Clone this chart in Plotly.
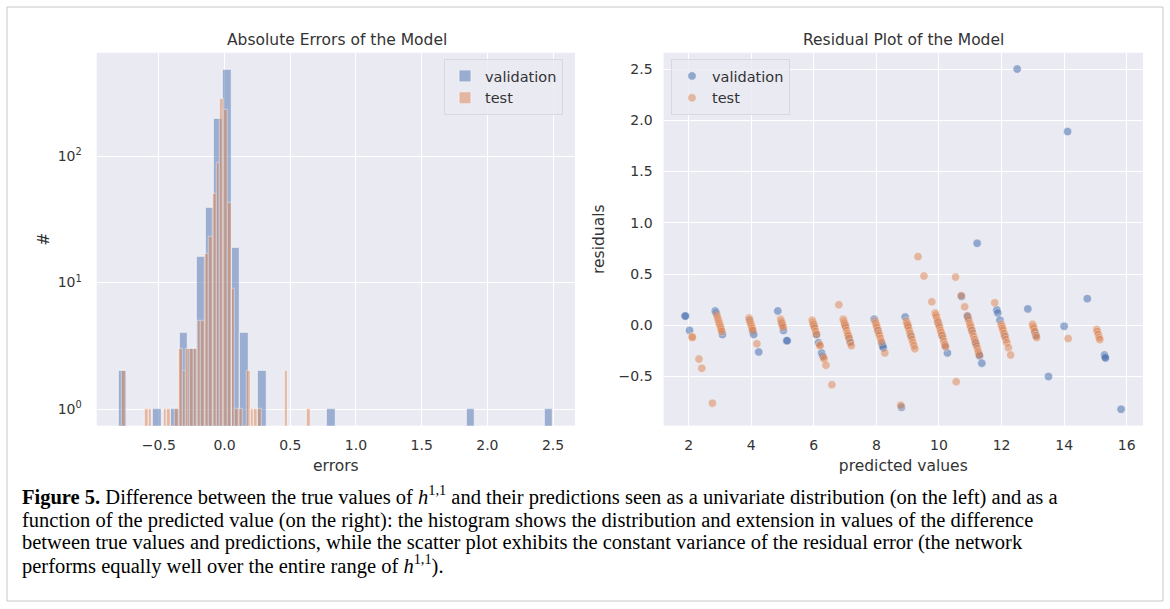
import numpy as np
import plotly.graph_objects as go

W, H = 1170, 609

# ---------------- data: histogram of errors ----------------
n_bins = 50
val_range = (-0.808, 2.501)
test_range = (-0.782, 0.656)
val_counts = [2, 0, 0, 0, 1, 0, 1, 4, 3, 16,
              39, 199, 485, 19, 4, 0, 2, 0, 0, 0,
              0, 0, 0, 0, 1, 0, 0, 0, 0, 0,
              0, 0, 0, 0, 0, 0, 0, 0, 0, 0,
              1, 0, 0, 0, 0, 0, 0, 0, 0, 1]
test_counts = [2, 0, 0, 0, 0, 0, 1, 1, 0, 0,
               0, 1, 1, 0, 1, 3, 2, 3, 3, 3,
               5, 5, 17, 23, 50, 88, 286, 231, 43, 9,
               1, 1, 0, 2, 1, 1, 1, 0, 0, 0,
               0, 0, 0, 2, 0, 0, 0, 0, 0, 1]

# ---------------- data: residual plot ----------------
val_pred = [1.88, 1.90, 2.03, 2.85, 2.88, 3.08, 3.95, 4.05, 4.08, 4.24,
            4.85, 4.97, 5.03, 5.13, 5.15, 6.00, 6.08, 6.15, 6.25, 6.28,
            7.00, 7.12, 7.16, 7.93, 8.05, 8.18, 8.20, 8.22, 8.80, 8.92,
            9.00, 9.10, 9.98, 10.10, 10.20, 10.27, 10.72, 10.91, 10.93, 11.05,
            11.16, 11.18, 11.22, 11.28, 11.30, 11.37, 11.85, 11.88, 11.95, 12.10,
            12.50, 12.84, 13.07, 13.10, 13.50, 14.00, 14.11, 14.74, 15.29, 15.31,
            15.32, 15.82]
val_res = [0.09, 0.09, -0.05, 0.14, 0.12, -0.09, 0.05, -0.06, -0.09, -0.26,
           0.14, 0.02, -0.05, -0.15, -0.15, 0.00, -0.09, -0.17, -0.27, -0.30,
           0.00, -0.12, -0.16, 0.06, -0.05, -0.18, -0.20, -0.22, -0.80, 0.08,
           0.00, -0.10, 0.02, -0.10, -0.20, -0.27, 0.28, 0.09, 0.07, -0.05,
           -0.16, -0.18, 0.80, -0.28, -0.30, -0.37, 0.15, 0.12, 0.05, -0.10,
           2.50, 0.16, -0.07, -0.10, -0.50, -0.01, 1.89, 0.26, -0.29, -0.31,
           -0.32, -0.82]

test_pred = [2.11, 2.12, 2.33, 2.42, 2.76,
             2.90, 2.92, 2.94, 2.96, 2.98, 3.00, 3.02, 3.04, 3.06,
             3.93, 3.95, 3.97, 3.99, 4.01, 4.03, 4.05, 4.18,
             4.94, 4.96, 4.98, 5.00, 5.02,
             5.95, 5.97, 5.99, 6.01, 6.03, 6.06, 6.09, 6.19, 6.20, 6.31, 6.33, 6.39, 6.58, 6.80,
             6.94, 6.96, 6.98, 7.00, 7.02, 7.05, 7.08, 7.10, 7.13, 7.17, 7.20,
             7.96, 7.98, 8.00, 8.02, 8.05, 8.08, 8.10, 8.13, 8.16, 8.27, 8.78,
             8.96, 8.98, 9.00, 9.02, 9.05, 9.08, 9.11, 9.14, 9.17, 9.20, 9.23, 9.33, 9.52, 9.77,
             9.88, 9.90, 9.92, 9.95, 9.97, 10.00, 10.02, 10.05, 10.07, 10.10, 10.13, 10.16, 10.19, 10.21,
             10.53, 10.55, 10.71, 10.82,
             10.91, 10.95, 10.98, 11.00, 11.02, 11.05, 11.08, 11.11, 11.14, 11.17, 11.20, 11.23, 11.26, 11.29,
             11.78,
             11.99, 12.01, 12.03, 12.05, 12.08, 12.11, 12.14, 12.17, 12.22, 12.29,
             12.99, 13.01, 13.03, 13.06, 13.10, 13.12,
             14.13,
             15.04, 15.06, 15.09, 15.12, 15.14]
test_res = [-0.11, -0.12, -0.33, -0.42, -0.76,
            0.10, 0.08, 0.06, 0.04, 0.02, 0.00, -0.02, -0.04, -0.06,
            0.07, 0.05, 0.03, 0.01, -0.01, -0.03, -0.05, -0.18,
            0.06, 0.04, 0.02, 0.00, -0.02,
            0.05, 0.03, 0.01, -0.01, -0.03, -0.06, -0.09, -0.19, -0.20, -0.31, -0.33, -0.39, -0.58, 0.20,
            0.06, 0.04, 0.02, 0.00, -0.02, -0.05, -0.08, -0.10, -0.13, -0.17, -0.20,
            0.04, 0.02, 0.00, -0.02, -0.05, -0.08, -0.10, -0.13, -0.16, -0.27, -0.78,
            0.04, 0.02, 0.00, -0.02, -0.05, -0.08, -0.11, -0.14, -0.17, -0.20, -0.23, 0.67, 0.48, 0.23,
            0.12, 0.10, 0.08, 0.05, 0.03, 0.00, -0.02, -0.05, -0.07, -0.10, -0.13, -0.16, -0.19, -0.21,
            0.47, -0.55, 0.29, 0.18,
            0.09, 0.05, 0.02, 0.00, -0.02, -0.05, -0.08, -0.11, -0.14, -0.17, -0.20, -0.23, -0.26, -0.29,
            0.22,
            0.01, -0.01, -0.03, -0.05, -0.08, -0.11, -0.14, -0.17, -0.22, -0.29,
            0.01, -0.01, -0.03, -0.06, -0.10, -0.12,
            -0.13,
            -0.04, -0.06, -0.09, -0.12, -0.14]

hist_xticks = [-0.5, 0.0, 0.5, 1.0, 1.5, 2.0, 2.5]
hist_yticks = [1, 10, 100]
hist_yticktext = ["10<sup>0</sup>", "10<sup>1</sup>", "10<sup>2</sup>"]
res_xticks = [2, 4, 6, 8, 10, 12, 14, 16]
res_yticks = [-0.5, 0.0, 0.5, 1.0, 1.5, 2.0, 2.5]

caption_lines = [
    "<b>Figure 5.</b> Difference between the true values of <i>h</i><sup>1,1</sup> and their "
    "predictions seen as a univariate distribution (on the left) and as a",
    "function of the predicted value (on the right): the histogram shows the distribution "
    "and extension in values of the difference",
    "between true values and predictions, while the scatter plot exhibits the constant "
    "variance of the residual error (the network",
    "performs equally well over the entire range of <i>h</i><sup>1,1</sup>).",
]

BLUE = "#4C72B0"
ORANGE = "#DD8452"
BG = "#EAEAF2"
TXT = "#333333"
FONT = "DejaVu Sans"


def bars(counts, rng):
    edges = np.linspace(rng[0], rng[1], n_bins + 1)
    centers = (edges[:-1] + edges[1:]) / 2
    width = edges[1] - edges[0]
    c = np.array(counts)
    keep = c > 0
    return centers[keep], c[keep], width


def px_x(p):
    return p / W


def px_y(p):
    return 1 - p / H


fig = go.Figure()

vx, vy, vw = bars(val_counts, val_range)
tx, ty, tw = bars(test_counts, test_range)
fig.add_trace(go.Bar(x=vx, y=vy, width=vw, name="validation", opacity=0.5,
                     marker=dict(color=BLUE, line=dict(color="white", width=0.8)),
                     xaxis="x", yaxis="y", legend="legend"))
fig.add_trace(go.Bar(x=tx, y=ty, width=tw, name="test", opacity=0.5,
                     marker=dict(color=ORANGE, line=dict(color="white", width=0.8)),
                     xaxis="x", yaxis="y", legend="legend"))

fig.add_trace(go.Scatter(x=val_pred, y=val_res, mode="markers", name="validation",
                         marker=dict(color=BLUE, size=8.5, opacity=0.55,
                                     line=dict(color="white", width=0.6)),
                         xaxis="x2", yaxis="y2", legend="legend2"))
fig.add_trace(go.Scatter(x=test_pred, y=test_res, mode="markers", name="test",
                         marker=dict(color=ORANGE, size=8.5, opacity=0.5,
                                     line=dict(color="white", width=0.6)),
                         xaxis="x2", yaxis="y2", legend="legend2"))

axis_common = dict(showgrid=True, gridcolor="white", gridwidth=1.3, zeroline=False,
                   showline=False, ticks="", tickfont=dict(family=FONT, size=14, color=TXT))
title_font = dict(size=15.5, family=FONT, color=TXT)

annotations = [
    dict(text="Absolute Errors of the Model", x=px_x(337), y=px_y(40), xref="paper", yref="paper",
         xanchor="center", yanchor="middle", showarrow=False,
         font=dict(family=FONT, size=15.5, color=TXT)),
    dict(text="Residual Plot of the Model", x=px_x(903), y=px_y(40), xref="paper", yref="paper",
         xanchor="center", yanchor="middle", showarrow=False,
         font=dict(family=FONT, size=15.5, color=TXT)),
]
caption_bottoms = [510, 532.7, 555.3, 579]
for line, yb in zip(caption_lines, caption_bottoms):
    annotations.append(dict(text=line, x=px_x(21), y=px_y(yb), xref="paper", yref="paper",
                            xanchor="left", yanchor="bottom", align="left", showarrow=False,
                            borderpad=0,
                            font=dict(family="Liberation Serif", size=20.5, color="black")))

fig.update_layout(
    width=W, height=H,
    margin=dict(l=0, r=0, t=0, b=0),
    paper_bgcolor="white", plot_bgcolor=BG,
    barmode="overlay", bargap=0,
    font=dict(family=FONT, color=TXT),
    xaxis=dict(domain=[px_x(96.7), px_x(575)], range=[-0.973, 2.667],
               tickvals=hist_xticks, tickformat=".1f", ticklabelstandoff=9,
               title=dict(text="errors", font=title_font, standoff=8),
               anchor="y", **axis_common),
    yaxis=dict(domain=[px_y(425.7), px_y(52.7)], type="log", range=[-0.132, 2.817],
               tickvals=hist_yticks, ticktext=hist_yticktext, ticklabelstandoff=14,
               title=dict(text="#", font=title_font, standoff=4),
               anchor="x", **axis_common),
    xaxis2=dict(domain=[px_x(663.6), px_x(1143)], range=[1.2, 16.52],
                tickvals=res_xticks, ticklabelstandoff=9,
                title=dict(text="predicted values", font=title_font, standoff=8),
                anchor="y2", **axis_common),
    yaxis2=dict(domain=[px_y(425.7), px_y(52.7)], range=[-0.98, 2.66],
                tickvals=res_yticks, tickformat=".1f", ticklabelstandoff=10,
                title=dict(text="residuals", font=title_font, standoff=10),
                anchor="x2", **axis_common),
    legend=dict(x=px_x(444), y=px_y(59), xanchor="left", yanchor="top",
                bgcolor="rgba(234,234,242,0.8)", bordercolor="#d8d8e0", borderwidth=1,
                font=dict(family=FONT, size=14.5, color=TXT)),
    legend2=dict(x=px_x(671), y=px_y(59), xanchor="left", yanchor="top",
                 bgcolor="rgba(234,234,242,0.8)", bordercolor="#d8d8e0", borderwidth=1,
                 font=dict(family=FONT, size=14.5, color=TXT)),
    annotations=annotations,
    shapes=[dict(type="rect", xref="paper", yref="paper", x0=px_x(7), x1=px_x(1163),
                 y0=px_y(601), y1=px_y(7), line=dict(color="#c8c8c8", width=1),
                 fillcolor="rgba(0,0,0,0)", layer="below")],
)

fig.write_html("out.html")
